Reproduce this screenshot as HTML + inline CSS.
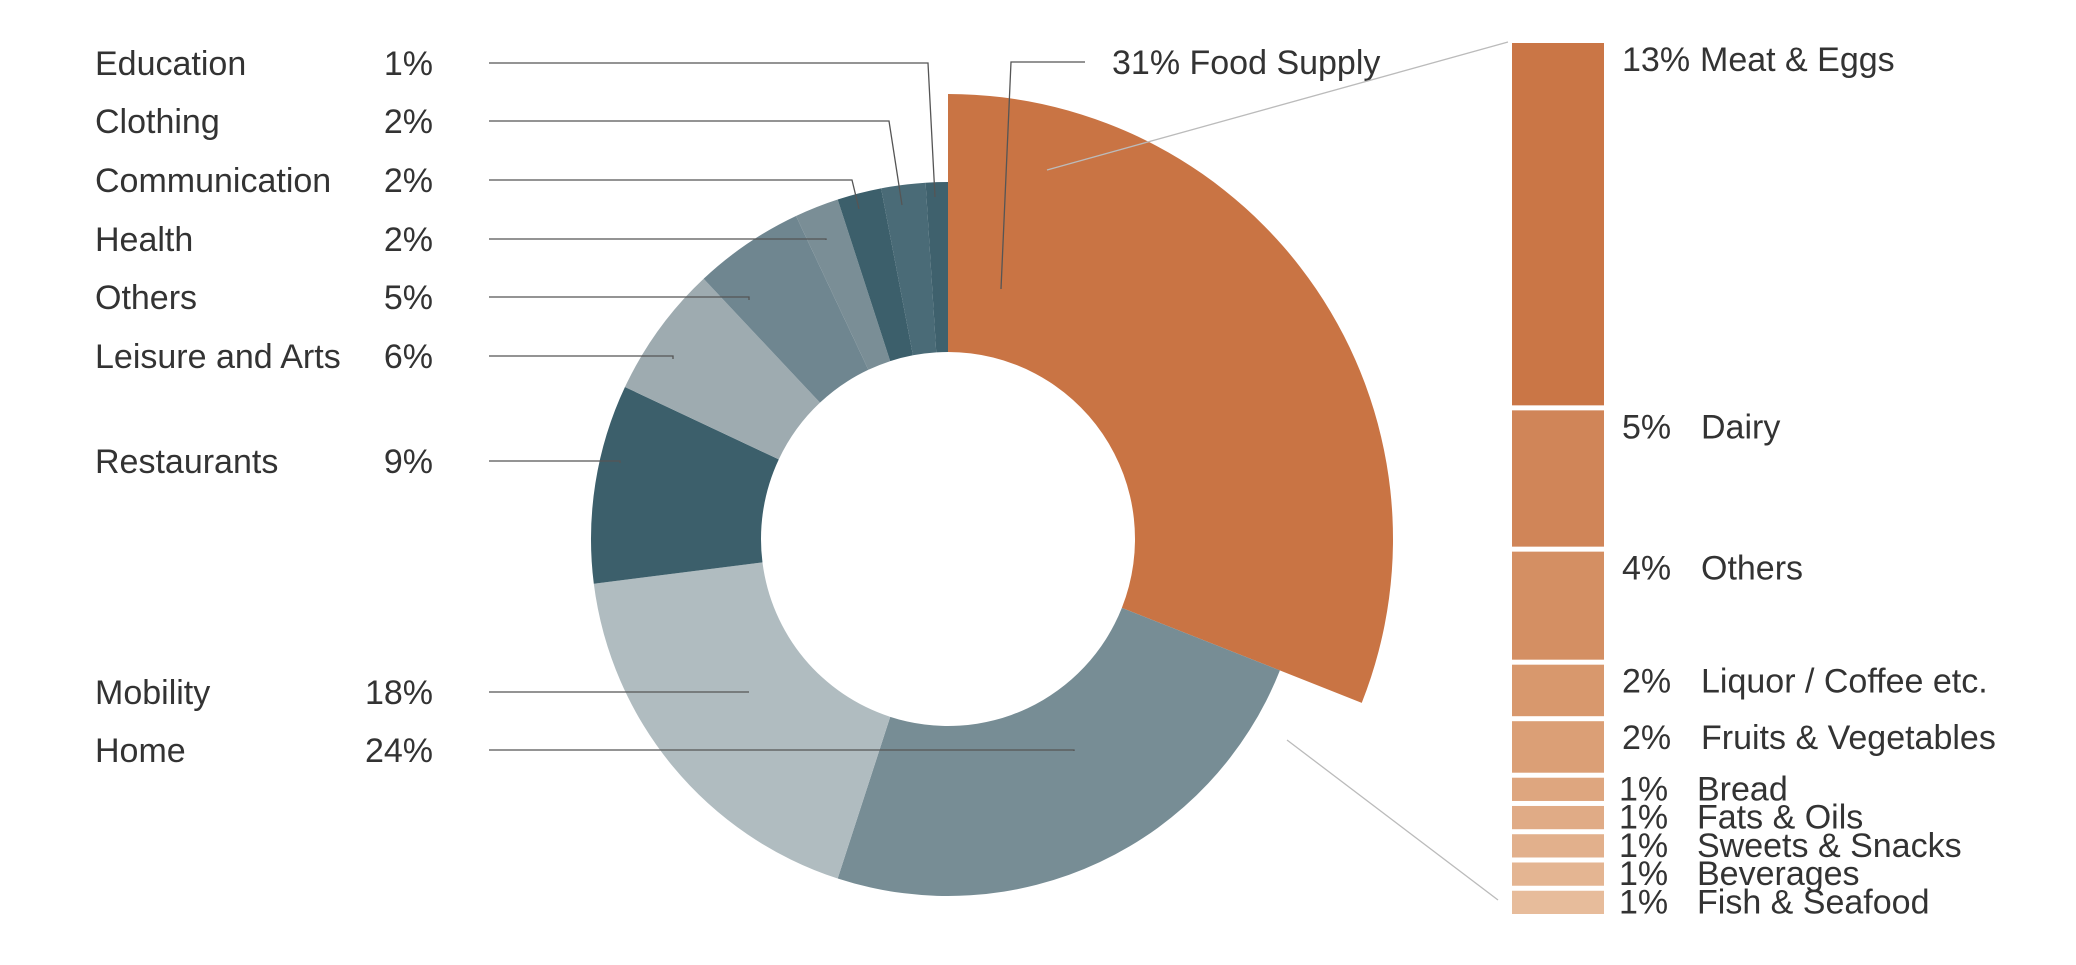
<!DOCTYPE html>
<html><head><meta charset="utf-8"><style>
html,body{margin:0;padding:0;background:#fff;}
svg{display:block;font-family:"Liberation Sans",sans-serif;}
text{fill:#333;font-size:34px;}
</style></head><body>
<svg id="chart" width="2076" height="965" viewBox="0 0 2076 965" xmlns="http://www.w3.org/2000/svg"></svg>
<script>
const categories=["Food Supply","Home","Mobility","Restaurants","Leisure and Arts","Others","Health","Communication","Clothing","Education"];
const values=[31,24,18,9,6,5,2,2,2,1];
const sliceColors=["#c97444","#778d95","#b0bcc0","#3c5f6b","#9eabb0","#6f8690","#7a8e96","#3c5f6b","#4a6b77","#3f616d"];
const legendCats=["Education","Clothing","Communication","Health","Others","Leisure and Arts","Restaurants","Mobility","Home"];
const legendVals=[1,2,2,2,5,6,9,18,24];
const foodCats=["Meat & Eggs","Dairy","Others","Liquor / Coffee etc.","Fruits & Vegetables","Bread","Fats & Oils","Sweets & Snacks","Beverages","Fish & Seafood"];
const foodVals=[13,5,4,2,2,1,1,1,1,1];
const foodColors=["#ca7646","#d08558","#d48f63","#d8986d","#db9f76","#dea67f","#e0ab86","#e2b08c","#e4b592","#e7bc9b"];

const svg=document.getElementById('chart');
const NS="http://www.w3.org/2000/svg";
function mk(tag,attrs){const e=document.createElementNS(NS,tag);for(const k in attrs)e.setAttribute(k,attrs[k]);svg.appendChild(e);return e;}
const cx=948,cy=539,rIn=187,rOut=357,rFood=445;
const total=values.reduce((a,b)=>a+b,0);
function pt(r,a){return [cx+r*Math.sin(a),cy-r*Math.cos(a)];}
function arc(a0,a1,r0,r1){
  const large=(a1-a0)>Math.PI?1:0;
  const p0=pt(r1,a0),p1=pt(r1,a1),p2=pt(r0,a1),p3=pt(r0,a0);
  return `M${p0[0]},${p0[1]} A${r1},${r1} 0 ${large} 1 ${p1[0]},${p1[1]} L${p2[0]},${p2[1]} A${r0},${r0} 0 ${large} 0 ${p3[0]},${p3[1]} Z`;
}
let acc=0;
values.forEach((v,i)=>{
  const a0=acc/total*2*Math.PI; acc+=v; const a1=acc/total*2*Math.PI;
  const p=mk('path',{d:arc(a0,a1,rIn,i===0?rFood:rOut),fill:sliceColors[i]});
  
  
});

const rowY=[63,121,180,239,297,356,461,692,750];
const lineEnds=[[928,935,197],[889,902,205],[852,859,209],[826,826,240],[749,749,300],[673,673,359],[620,620,463],[749,749,692],[1074,1074,751]];
legendCats.forEach((c,i)=>{
  const y=rowY[i];
  const t=mk('text',{x:95,y:y+12});t.textContent=c;
  
  
  const p=mk('text',{x:433,y:y+12,'text-anchor':'end'});p.textContent=legendVals[i]+'%';
  
  
  const e=lineEnds[i];
  const l=mk('polyline',{points:`489,${y} ${e[0]},${y} ${e[1]},${e[2]}`,fill:'none',stroke:'#555','stroke-width':1.3});
  
  
});
const fl=mk('polyline',{points:`1085,62 1011,62 1001,289`,fill:'none',stroke:'#555','stroke-width':1.3});


const ft=mk('text',{x:1112,y:74});ft.textContent=values[0]+'%  '+categories[0];



const c1=mk('line',{x1:1047,y1:170,x2:1508,y2:42,stroke:'#bbb','stroke-width':1.3});


const c2=mk('line',{x1:1287,y1:740,x2:1498,y2:900,stroke:'#bbb','stroke-width':1.3});



const barX=1512,barW=92,top0=43,bottom=914,gap=5;
const fTotal=foodVals.reduce((a,b)=>a+b,0);
const k=(bottom-top0+gap)/fTotal;
let cum=0;
foodVals.forEach((v,i)=>{
  const y=top0+cum*k;
  const h=v*k-gap;
  cum+=v;
  const r=mk('rect',{x:barX,y:y,width:barW,height:h,fill:foodColors[i]});
  
  
  const small=v<2;
  const ty=y+Math.min(16,h/2)+(small?11:12);
  const fs=small?'31px':'34px';
  const p=mk('text',{x:small?1619:1622,y:ty,'font-size':fs});p.textContent=v+'%';
  
  
  const n=mk('text',{x:i===0?1700:(small?1697:1701),y:ty,'font-size':fs});n.textContent=foodCats[i];
  
  
});
</script>
</body></html>
